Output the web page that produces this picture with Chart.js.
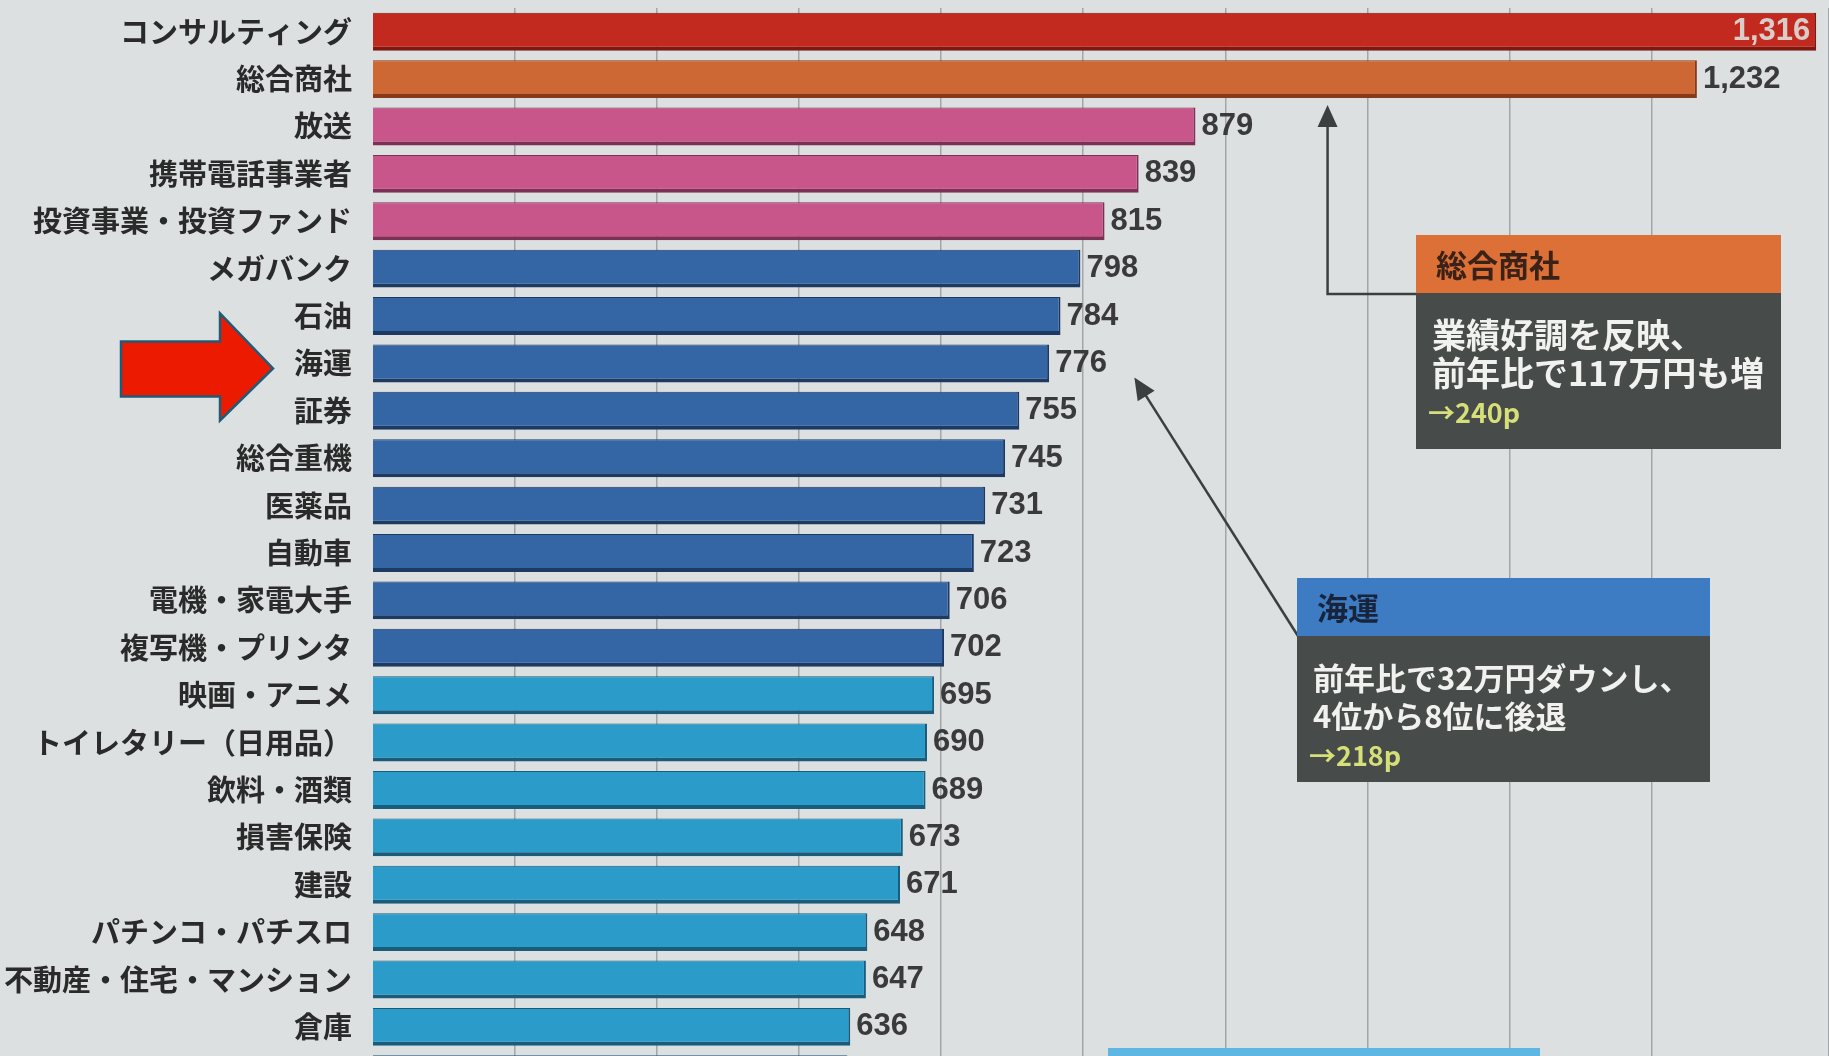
<!DOCTYPE html>
<html lang="ja">
<head>
<meta charset="utf-8">
<script src="https://cdn.jsdelivr.net/npm/chart.js@4.4.1/dist/chart.umd.min.js"></script>
<style>
  html, body { margin: 0; padding: 0; overflow: hidden; background: #dde0e1; }
  #wrap { position: relative; width: 1829px; height: 1100px; }
</style>
</head>
<body>
<div id="wrap"><canvas id="rankChart"></canvas></div>
<script>
// * 業種別ランキング (万円)
const industries = [
  "コンサルティング", "総合商社", "放送", "携帯電話事業者", "投資事業・投資ファンド",
  "メガバンク", "石油", "海運", "証券", "総合重機", "医薬品", "自動車",
  "電機・家電大手", "複写機・プリンタ", "映画・アニメ", "トイレタリー（日用品）",
  "飲料・酒類", "損害保険", "建設", "パチンコ・パチスロ", "不動産・住宅・マンション",
  "倉庫", ""
];
const salary = [
  1316, 1232, 879, 839, 815, 798, 784, 776, 755, 745, 731, 723,
  706, 702, 695, 690, 689, 673, 671, 648, 647, 636, 634
];
const groups = [
  "red", "orange", "pink", "pink", "pink",
  "blue", "blue", "blue", "blue", "blue", "blue", "blue", "blue", "blue",
  "cyan", "cyan", "cyan", "cyan", "cyan", "cyan", "cyan", "cyan", "cyan"
];
const axisTicks = [300, 1325]; // min / max of the value axis
const labelCount = 22; // the last bar is cut off at the bottom

const fill = { red: "#c22a1f", orange: "#cd6733", pink: "#c9568b", blue: "#3466a6", cyan: "#2b9bc9" };
const edge = { red: "#7e1912", orange: "#87391a", pink: "#7d2f54", blue: "#1d3a63", cyan: "#1a5c7c" };

const valuePlugin = {
  id: "values",
  afterDatasetsDraw(chart) {
    const ctx = chart.ctx;
    const meta = chart.getDatasetMeta(0);
    ctx.save();
    ctx.font = 'bold 31px "Liberation Sans", Arial, sans-serif';
    ctx.textBaseline = "middle";
    meta.data.forEach((bar, i) => {
      if (i >= labelCount) return;
      const txt = salary[i].toLocaleString("en-US");
      if (i === 0) {
        ctx.textAlign = "right";
        ctx.fillStyle = "#d8cdc8";
        ctx.fillText(txt, bar.x - 6, bar.y);
      } else {
        ctx.textAlign = "left";
        ctx.fillStyle = "#3a3a3a";
        ctx.fillText(txt, bar.x + 6, bar.y);
      }
    });
    ctx.restore();
  },
};

function arrowHead(ctx, x, y, ang, len, wid) {
  ctx.beginPath();
  ctx.moveTo(x, y);
  ctx.lineTo(x - len * Math.cos(ang) + wid / 2 * Math.sin(ang), y - len * Math.sin(ang) - wid / 2 * Math.cos(ang));
  ctx.lineTo(x - len * Math.cos(ang) - wid / 2 * Math.sin(ang), y - len * Math.sin(ang) + wid / 2 * Math.cos(ang));
  ctx.closePath();
  ctx.fill();
}

function noteBox(ctx, x, y, w, headH, bodyH, headColor, title, titleColor, lines, pageRef, size) {
  ctx.fillStyle = headColor;
  ctx.fillRect(x, y, w, headH);
  ctx.fillStyle = "#474b4a";
  ctx.fillRect(x, y + headH, w, bodyH);
  ctx.textAlign = "left";
  ctx.textBaseline = "middle";
  ctx.font = 'bold 31px "Noto Sans CJK JP", sans-serif';
  ctx.fillStyle = titleColor;
  ctx.fillText(title, x + 20, y + headH / 2 + 1);
  ctx.font = "bold " + size + 'px "Noto Sans CJK JP", sans-serif';
  ctx.fillStyle = "#f1f1ef";
  lines.forEach((l, k) => ctx.fillText(l, x + 16, y + headH + 42 + k * 38));
  ctx.font = 'bold 27px "Noto Sans CJK JP", sans-serif';
  ctx.fillStyle = "#d6df78";
  ctx.fillText(pageRef, x + 12, y + headH + 42 + lines.length * 38 + 2);
}

const notesPlugin = {
  id: "notes",
  afterDraw(chart) {
    const ctx = chart.ctx;
    const xs = chart.scales.x;
    const ys = chart.scales.y;
    ctx.save();

    // ? 総合商社 の注記
    const t1x = xs.getPixelForValue(972);
    const t1y = ys.getPixelForValue(1) + 26;
    ctx.strokeStyle = "#3b3f40";
    ctx.fillStyle = "#3b3f40";
    ctx.lineWidth = 2.5;
    ctx.beginPath();
    ctx.moveTo(t1x, t1y + 10);
    ctx.lineTo(t1x, 294);
    ctx.lineTo(1417, 294);
    ctx.stroke();
    arrowHead(ctx, t1x, t1y, -Math.PI / 2, 22, 20);
    noteBox(ctx, 1416, 235, 365, 58, 156, "#dd7036", "総合商社", "#3a2218",
      ["業績好調を反映、", "前年比で117万円も増"], "→240p", 34);

    // ? 海運 の注記
    const t2x = xs.getPixelForValue(836);
    const t2y = ys.getPixelForValue(7) + 14;
    const sx = 1298, sy = 636;
    const ang = Math.atan2(t2y - sy, t2x - sx);
    ctx.strokeStyle = "#3b3f40";
    ctx.fillStyle = "#3b3f40";
    ctx.beginPath();
    ctx.moveTo(sx, sy);
    ctx.lineTo(t2x - 12 * Math.cos(ang), t2y - 12 * Math.sin(ang));
    ctx.stroke();
    arrowHead(ctx, t2x, t2y, ang, 22, 20);
    noteBox(ctx, 1297, 578, 413, 58, 146, "#3d7cc2", "海運", "#18243c",
      ["前年比で32万円ダウンし、", "4位から8位に後退"], "→218p", 31);

    // bottom box (cut off)
    ctx.fillStyle = "#5db7e2";
    ctx.fillRect(1108, 1048, 432, 12);

    // red pointer arrow
    const ay = ys.getPixelForValue(7) + 5;
    ctx.beginPath();
    ctx.moveTo(121, ay - 27);
    ctx.lineTo(220, ay - 27);
    ctx.lineTo(220, ay - 55);
    ctx.lineTo(273, ay);
    ctx.lineTo(220, ay + 52);
    ctx.lineTo(220, ay + 28);
    ctx.lineTo(121, ay + 28);
    ctx.closePath();
    ctx.fillStyle = "#ec1b00";
    ctx.fill();
    ctx.strokeStyle = "#1f5b78";
    ctx.lineWidth = 2.5;
    ctx.stroke();

    ctx.restore();
  },
};

const chartCanvas = document.getElementById("rankChart").getContext("2d");
const rankChart = new Chart(chartCanvas, {
  type: "bar",
  data: {
    labels: industries,
    datasets: [
      {
        data: salary,
        backgroundColor: groups.map((g) => fill[g]),
        borderColor: groups.map((g) => edge[g]),
        borderWidth: { top: 1, right: 2, bottom: 4, left: 0 },
        borderSkipped: false,
        barPercentage: 0.8,
        categoryPercentage: 1.0,
      },
    ],
  },
  options: {
    indexAxis: "y",
    responsive: true,
    maintainAspectRatio: false,
    animation: false,
    layout: { padding: { top: 8, bottom: 2, left: 0, right: 0 } },
    plugins: { legend: { display: false }, tooltip: { enabled: false } },
    scales: {
      x: {
        min: axisTicks[0],
        max: axisTicks[1],
        afterFit: (scale) => {
          scale.height = 0;
          scale.paddingLeft = 0;
          scale.paddingRight = 0;
        },
        ticks: { display: false, stepSize: 100 },
        border: { display: false },
        grid: {
          drawTicks: false,
          lineWidth: 1.5,
          color: (c) => (c.tick && c.tick.value > axisTicks[0] ? "#a2a6a8" : "transparent"),
        },
      },
      y: {
        afterFit: (scale) => {
          scale.width = 373;
          scale.paddingTop = 0;
          scale.paddingBottom = 0;
        },
        border: { display: false },
        grid: { display: false },
        ticks: {
          padding: 13,
          color: "#2a2a2a",
          font: { family: '"Noto Sans CJK JP", sans-serif', size: 29, weight: "bold" },
        },
      },
    },
  },
  plugins: [valuePlugin, notesPlugin],
});
</script>
</body>
</html>
